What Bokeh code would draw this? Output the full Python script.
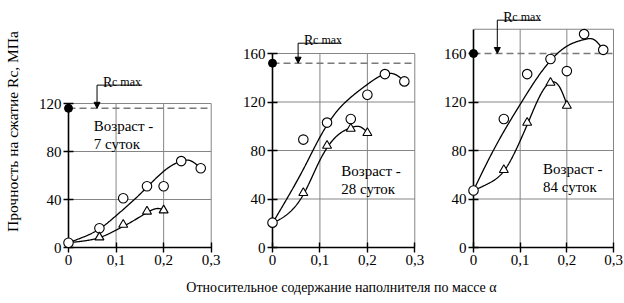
import numpy as np
from bokeh.plotting import figure
from bokeh.layouts import row, column
from bokeh.models import Range1d, LinearAxis, FixedTicker, Label, Arrow, NormalHead
from bokeh.embed import file_html
from bokeh.resources import INLINE

# ---------------- data ----------------
alpha_circ = [0, 0.065, 0.115, 0.165, 0.2, 0.237, 0.278]
alpha_tri = [0.065, 0.115, 0.165, 0.2]

rc_circ_7 = [4, 16, 41, 51, 51, 72, 66]
rc_tri_7 = [8.5, 19, 30, 31]
rc_circ_28 = [20.5, 89, 103, 106, 126, 143, 137]
rc_tri_28 = [45, 84, 98, 94.5]
rc_circ_84 = [47, 106, 143, 155.5, 145.5, 176, 163]
rc_tri_84 = [64, 103, 136, 117]

# trend curves (knots)
curve_circ_7_x = [0, 0.033, 0.067, 0.1, 0.133, 0.167, 0.2, 0.237, 0.255, 0.278]
curve_circ_7_y = [4, 9, 16, 26.5, 38, 51, 63.5, 72, 72.5, 66]
curve_tri_7_x = [0, 0.033, 0.067, 0.1, 0.133, 0.167, 0.188, 0.2]
curve_tri_7_y = [4, 5.5, 8.5, 14.5, 21.5, 29.5, 32.5, 31.5]

curve_circ_28_x = [0, 0.033, 0.067, 0.1, 0.133, 0.167, 0.2, 0.237, 0.26, 0.278]
curve_circ_28_y = [20, 42, 66, 91, 111, 124.5, 134.5, 143, 142.5, 137]
curve_tri_28_x = [0, 0.033, 0.067, 0.1, 0.133, 0.167, 0.185, 0.2]
curve_tri_28_y = [20, 28, 45, 72, 91, 99, 99.5, 95]

curve_circ_84_x = [0, 0.033, 0.067, 0.1, 0.133, 0.167, 0.2, 0.237, 0.26, 0.278]
curve_circ_84_y = [47, 73, 97, 118, 138, 155, 166, 171.5, 171, 163]
curve_tri_84_x = [0, 0.033, 0.067, 0.1, 0.117, 0.145, 0.167, 0.185, 0.2]
curve_tri_84_y = [47, 53, 64, 88, 103, 127, 136.5, 132, 118]

rc_max = [116, 152, 160]
age_lines = [["Возраст -", "7 суток"], ["Возраст -", "28 суток"], ["Возраст -", "84 суток"]]
x_ticks = [0, 0.1, 0.2, 0.3]
x_tick_labels = ["0", "0,1", "0,2", "0,3"]
y_ticks = [[0, 40, 80, 120], [0, 40, 80, 120, 160], [0, 40, 80, 120, 160]]
y_grid = [[40, 80], [40, 80, 120], [40, 80, 120]]
y_tops = [120, 160, 180]
y_title = "Прочность на сжатие Rc, МПа"
x_title = "Относительное содержание наполнителя по массе α"

FONT = "Liberation Serif"


def natural_spline(xs, ys, n=240):
    xs = np.asarray(xs, float)
    ys = np.asarray(ys, float)
    k = len(xs)
    h = np.diff(xs)
    A = np.zeros((k, k))
    b = np.zeros(k)
    A[0, 0] = A[-1, -1] = 1.0
    for i in range(1, k - 1):
        A[i, i - 1] = h[i - 1]
        A[i, i] = 2 * (h[i - 1] + h[i])
        A[i, i + 1] = h[i]
        b[i] = 3 * ((ys[i + 1] - ys[i]) / h[i] - (ys[i] - ys[i - 1]) / h[i - 1])
    c = np.linalg.solve(A, b)
    bb = (ys[1:] - ys[:-1]) / h - h * (2 * c[:-1] + c[1:]) / 3
    d = (c[1:] - c[:-1]) / (3 * h)
    xx = np.linspace(xs[0], xs[-1], n)
    idx = np.clip(np.searchsorted(xs, xx, side="right") - 1, 0, k - 2)
    t = xx - xs[idx]
    yy = ys[idx] + bb[idx] * t + c[idx] * t ** 2 + d[idx] * t ** 3
    return xx, yy


LEFT_STRIP = 26
FH = 247
FIG_H = 278

# panel geometry (pixel layout): left border = pixel position of alpha=0 inside the figure
panels = [
    dict(circ=rc_circ_7, tri=rc_tri_7, cc=(curve_circ_7_x, curve_circ_7_y), ct=(curve_tri_7_x, curve_tri_7_y),
         border=68 - LEFT_STRIP, fw=152, bright=4, xs=475.7, ys=1.2,
         arrow_x=0.06, lead_end=0.155, lead_y=135.3, age_x=0.053, age_y=(101.4, 86.2)),
    dict(circ=rc_circ_28, tri=rc_tri_28, cc=(curve_circ_28_x, curve_circ_28_y), ct=(curve_tri_28_x, curve_tri_28_y),
         border=48, fw=152, bright=0, xs=474.3, ys=1.2125,
         arrow_x=0.054, lead_end=0.144, lead_y=168.5, age_x=0.145, age_y=(62.9, 48.0)),
    dict(circ=rc_circ_84, tri=rc_tri_84, cc=(curve_circ_84_x, curve_circ_84_y), ct=(curve_tri_84_x, curve_tri_84_y),
         border=49, fw=151, bright=0, xs=466.7, ys=1.2125,
         arrow_x=0.051, lead_end=0.143, lead_y=187.5, age_x=0.149, age_y=(65.0, 50.0)),
]

figs = []
for i, pc in enumerate(panels):
    x_end = pc["fw"] / pc["xs"]
    y_end = FH / pc["ys"]
    p = figure(frame_width=pc["fw"], frame_height=FH, x_range=Range1d(0, x_end),
               y_range=Range1d(0, y_end), output_backend="svg", toolbar_location=None,
               x_axis_location=None, y_axis_location=None,
               min_border_left=pc["border"], min_border_right=pc["bright"], min_border_top=0,
               min_border_bottom=FIG_H - FH)
    p.grid.visible = False
    p.outline_line_color = None
    p.background_fill_color = "white"
    p.border_fill_color = "white"

    ytop = y_tops[i]
    # grid and frame lines
    vx = [t for t in x_ticks if t > 0]
    p.segment(x0=vx, y0=[0] * len(vx), x1=vx, y1=[ytop] * len(vx), line_color="#858585", line_width=1)
    hy = y_grid[i] + [ytop]
    p.segment(x0=[0] * len(hy), y0=hy, x1=[x_ticks[-1]] * len(hy), y1=hy, line_color="#858585", line_width=1)

    # Rc max dashed level
    p.segment(x0=[0], y0=[rc_max[i]], x1=[x_ticks[-1]], y1=[rc_max[i]], line_color="#7a7a7a",
              line_width=1.5, line_dash="7 4")

    # trend curves
    xx, yy = natural_spline(*pc["cc"])
    p.line(xx, yy, line_color="black", line_width=1.3)
    xx, yy = natural_spline(*pc["ct"])
    p.line(xx, yy, line_color="black", line_width=1.3)

    # points (drawn at annotation level so that marks on the axes are not cut by the frame)
    for r in (
        p.scatter(alpha_circ, pc["circ"], marker="circle", size=9.5, fill_color="white",
                  line_color="black", line_width=1.1),
        p.scatter(alpha_tri, pc["tri"], marker="triangle", size=9, fill_color="white",
                  line_color="black", line_width=1.1),
        p.scatter([0], [rc_max[i]], marker="circle", size=8, fill_color="black", line_color="black"),
    ):
        r.level = "annotation"

    # Rc max annotation
    p.segment(x0=[pc["arrow_x"]], y0=[pc["lead_y"]], x1=[pc["lead_end"]], y1=[pc["lead_y"]],
              line_color="black", line_width=1)
    p.add_layout(Arrow(x_start=pc["arrow_x"], y_start=pc["lead_y"], x_end=pc["arrow_x"], y_end=rc_max[i],
                       line_width=1, line_color="black",
                       end=NormalHead(size=6, fill_color="black", line_color="black", line_width=1)))
    ty = pc["lead_y"] + 3 / pc["ys"]
    tx = pc["arrow_x"] + 6 / pc["xs"]
    p.add_layout(Label(x=tx, y=ty, text="R", text_font=FONT, text_font_size="14px",
                       text_color="black", text_baseline="alphabetic"))
    p.add_layout(Label(x=tx + 9 / pc["xs"], y=ty, text="c max", text_font=FONT, text_font_size="12px",
                       text_color="black", text_baseline="alphabetic"))

    # age text
    for line, yv in zip(age_lines[i], pc["age_y"]):
        p.add_layout(Label(x=pc["age_x"], y=yv, text=line, text_font=FONT, text_font_size="15px",
                           text_color="black", text_baseline="alphabetic"))

    # axes through the origin (frame edges are at alpha=0 and Rc=0)
    ya = LinearAxis(bounds=(0, ytop), ticker=FixedTicker(ticks=y_ticks[i]))
    xa = LinearAxis(bounds=(0, x_ticks[-1]), ticker=FixedTicker(ticks=x_ticks),
                    major_label_overrides={t: s for t, s in zip(x_ticks, x_tick_labels)})
    for ax in (xa, ya):
        ax.axis_line_color = "black"
        ax.axis_line_width = 1.6
        ax.major_tick_line_color = "black"
        ax.major_tick_line_width = 1.4
        ax.major_tick_in = 5
        ax.major_tick_out = 5
        ax.minor_tick_line_color = None
        ax.major_label_text_font = FONT
        ax.major_label_text_font_size = "15px"
        ax.major_label_text_color = "black"
        ax.major_label_standoff = 2
    p.add_layout(ya, "left")
    p.add_layout(xa, "below")
    figs.append(p)

# y axis title strip on the left
fl = figure(width=LEFT_STRIP, height=FIG_H, output_backend="svg", toolbar_location=None,
            x_axis_location=None, y_axis_location=None, min_border=0,
            x_range=Range1d(0, 1), y_range=Range1d(0, 1))
fl.grid.visible = False
fl.outline_line_color = None
fl.add_layout(Label(x=12, y=116, x_units="screen", y_units="screen", text=y_title, angle=np.pi / 2,
                    text_font=FONT, text_font_size="15.5px", text_color="black",
                    text_align="center", text_baseline="middle"))

# x axis title strip
ft = figure(width=624, height=303 - FIG_H, output_backend="svg", toolbar_location=None,
            x_axis_location=None, y_axis_location=None, min_border=0,
            x_range=Range1d(0, 1), y_range=Range1d(0, 1))
ft.grid.visible = False
ft.outline_line_color = None
ft.add_layout(Label(x=341, y=16, x_units="screen", y_units="screen", text=x_title, text_font=FONT,
                    text_font_size="14px", text_color="black", text_align="center", text_baseline="middle"))

layout = column(row(fl, *figs), ft)
open("out.html", "w").write(file_html(layout, INLINE))
